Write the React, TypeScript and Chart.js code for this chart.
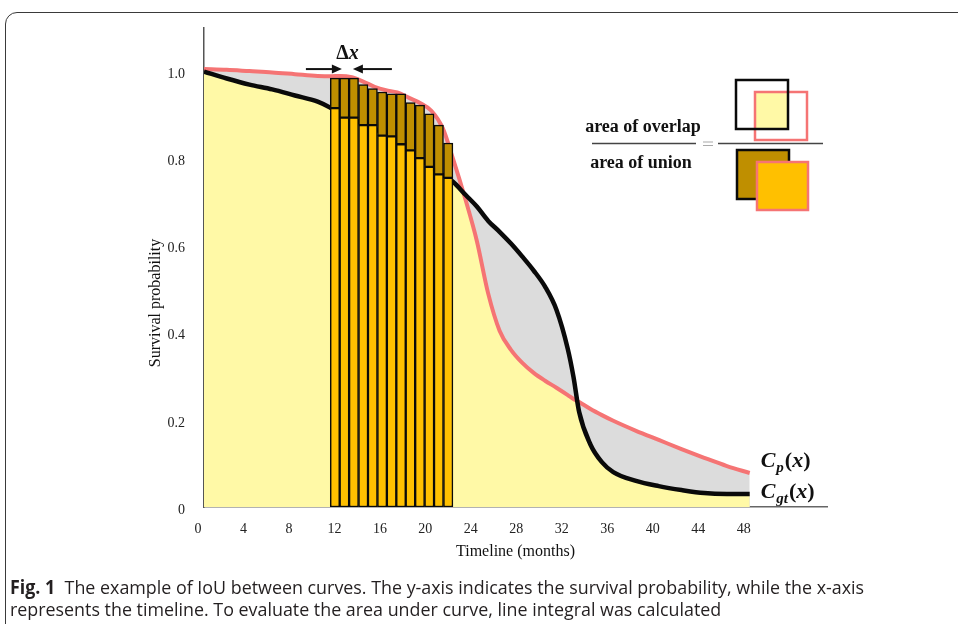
import React, { useEffect, useRef } from 'react';
import { Chart, registerables } from 'chart.js';

Chart.register(...registerables);

// ---- data (months, survival probability) ----
const timeline = [0, 2, 4, 6, 8, 10, 11.1, 12, 13, 14, 15, 16, 17, 18, 19, 20, 21, 21.9, 23, 24, 25, 26, 27, 28, 29, 30, 31, 32, 32.5, 33, 34, 35, 36, 38, 40, 42, 44, 46, 48];
const groundTruth = [1.0, 0.984, 0.97, 0.959, 0.945, 0.931, 0.917, 0.9, 0.893, 0.878, 0.87, 0.852, 0.84, 0.822, 0.8, 0.78, 0.762, 0.747, 0.717, 0.69, 0.657, 0.632, 0.605, 0.575, 0.543, 0.506, 0.453, 0.363, 0.299, 0.218, 0.143, 0.103, 0.08, 0.06, 0.048, 0.039, 0.032, 0.03, 0.03];
const predicted = [1.006, 1.004, 1.001, 0.998, 0.994, 0.99, 0.989, 0.99, 0.987, 0.977, 0.965, 0.957, 0.952, 0.94, 0.928, 0.91, 0.87, 0.8, 0.706, 0.611, 0.49, 0.405, 0.361, 0.331, 0.308, 0.29, 0.274, 0.257, 0.248, 0.241, 0.225, 0.211, 0.198, 0.175, 0.154, 0.133, 0.113, 0.094, 0.078];

// Δx strips used for the line integral
const barCenters = [11.52, 12.35, 13.18, 14.01, 14.84, 15.67, 16.5, 17.33, 18.16, 18.99, 19.82, 20.65, 21.48];
const barGroundTruth = [0.916, 0.894, 0.894, 0.877, 0.877, 0.853, 0.851, 0.833, 0.819, 0.801, 0.781, 0.764, 0.756];
const barPredicted = [0.985, 0.985, 0.985, 0.97, 0.961, 0.953, 0.949, 0.949, 0.929, 0.923, 0.903, 0.877, 0.836];

const xTicks = [0, 4, 8, 12, 16, 20, 24, 28, 32, 36, 40, 44, 48];
const yTicks = [0, 0.2, 0.4, 0.6, 0.8, 1.0];

const RED = '#F57474';
const BLACK = '#0a0a0a';
const GREY = '#DCDCDC';
const YELLOW = '#FFF9A6';
const ORANGE = '#FFC000';
const DARKGOLD = '#BF8F00';
const SERIF = '"Liberation Serif", "Times New Roman", serif';

const annotations = {
  id: 'annotations',
  afterDraw(chart: any) {
    const { ctx, scales } = chart;
    const x = scales.x;
    const y = scales.y;
    ctx.save();

    // y axis title
    ctx.save();
    ctx.translate(156, 303);
    ctx.rotate(-Math.PI / 2);
    ctx.font = `16px ${SERIF}`;
    ctx.fillStyle = '#111';
    ctx.textAlign = 'center';
    ctx.textBaseline = 'middle';
    ctx.fillText('Survival probability', 0, 0);
    ctx.restore();

    // Δx marker
    const c = x.getPixelForValue(barCenters[1]) + 3;
    const ay = y.getPixelForValue(barPredicted[0]) - 9;
    const gap = 5.5;
    ctx.strokeStyle = '#111';
    ctx.fillStyle = '#111';
    ctx.lineWidth = 2;
    const arrow = (from: number, to: number) => {
      const dir = Math.sign(to - from);
      ctx.beginPath();
      ctx.moveTo(from, ay);
      ctx.lineTo(to - dir * 8, ay);
      ctx.stroke();
      ctx.beginPath();
      ctx.moveTo(to, ay);
      ctx.lineTo(to - dir * 10, ay - 4.5);
      ctx.lineTo(to - dir * 10, ay + 4.5);
      ctx.closePath();
      ctx.fill();
    };
    arrow(c - gap - 36, c - gap);
    arrow(c + gap + 39, c + gap);
    ctx.textBaseline = 'alphabetic';
    ctx.textAlign = 'left';
    ctx.font = `bold 20px ${SERIF}`;
    const dW = ctx.measureText('Δ').width;
    ctx.font = `bold italic 20px ${SERIF}`;
    const xW = ctx.measureText('x').width;
    const tx = c - (dW + xW) / 2;
    ctx.font = `bold 20px ${SERIF}`;
    ctx.fillText('Δ', tx, ay - 10);
    ctx.font = `bold italic 20px ${SERIF}`;
    ctx.fillText('x', tx + dW, ay - 10);

    // curve labels
    const drawLabel = (sub: string, baseY: number) => {
      let px = x.getPixelForValue(timeline[timeline.length - 1]) + 11;
      ctx.fillStyle = '#111';
      ctx.font = `bold italic 22px ${SERIF}`;
      ctx.fillText('C', px, baseY);
      px += ctx.measureText('C').width + 1;
      ctx.font = `bold italic 15px ${SERIF}`;
      ctx.fillText(sub, px, baseY + 5);
      px += ctx.measureText(sub).width + 1;
      ctx.font = `bold 22px ${SERIF}`;
      ctx.fillText('(', px, baseY);
      px += ctx.measureText('(').width;
      ctx.font = `bold italic 22px ${SERIF}`;
      ctx.fillText('x', px, baseY);
      px += ctx.measureText('x').width;
      ctx.font = `bold 22px ${SERIF}`;
      ctx.fillText(')', px, baseY);
    };
    drawLabel('p', y.getPixelForValue(predicted[predicted.length - 1]) - 6);
    drawLabel('gt', y.getPixelForValue(groundTruth[groundTruth.length - 1]) + 4);

    // IoU illustration
    ctx.font = `bold 18px ${SERIF}`;
    ctx.textAlign = 'center';
    ctx.fillStyle = '#111';
    ctx.fillText('area of overlap', 643, 132);
    ctx.fillText('area of union', 641, 168);
    ctx.strokeStyle = '#444';
    ctx.lineWidth = 1.5;
    ctx.beginPath();
    ctx.moveTo(592, 143.5);
    ctx.lineTo(696, 143.5);
    ctx.moveTo(718, 143.5);
    ctx.lineTo(823, 143.5);
    ctx.stroke();
    ctx.strokeStyle = '#aaa';
    ctx.lineWidth = 1.2;
    ctx.beginPath();
    ctx.moveTo(703, 142);
    ctx.lineTo(713, 142);
    ctx.moveTo(703, 145.5);
    ctx.lineTo(713, 145.5);
    ctx.stroke();

    // overlap squares
    ctx.fillStyle = YELLOW;
    ctx.fillRect(755, 92, 33, 37);
    ctx.lineWidth = 2.5;
    ctx.strokeStyle = RED;
    ctx.strokeRect(755, 92, 52, 48);
    ctx.strokeStyle = BLACK;
    ctx.strokeRect(736, 80, 52, 49);
    // union squares
    ctx.fillStyle = DARKGOLD;
    ctx.fillRect(737, 150, 52, 49);
    ctx.strokeStyle = BLACK;
    ctx.strokeRect(737, 150, 52, 49);
    ctx.fillStyle = ORANGE;
    ctx.fillRect(757, 162, 51, 48);
    ctx.strokeStyle = RED;
    ctx.strokeRect(757, 162, 51, 48);

    ctx.restore();
  },
};

export default function App() {
  const canvasRef = useRef<HTMLCanvasElement>(null);

  useEffect(() => {
    const canvas = canvasRef.current;
    if (!canvas) return;
    const gtPoints = timeline.map((t, i) => ({ x: t, y: groundTruth[i] }));
    const predPoints = timeline.map((t, i) => ({ x: t, y: predicted[i] }));
    const overlapPoints = timeline.map((t, i) => ({ x: t, y: Math.min(groundTruth[i], predicted[i]) }));
    const upperBars = barCenters.map((t, i) => ({ x: t, y: [barGroundTruth[i], barPredicted[i]] }));
    const lowerBars = barCenters.map((t, i) => ({ x: t, y: [0, barGroundTruth[i]] }));

    const chart = new Chart(canvas, {
      type: 'line',
      data: {
        datasets: [
          {
            type: 'bar',
            label: 'difference strip',
            data: upperBars as any,
            backgroundColor: DARKGOLD,
            borderColor: BLACK,
            borderWidth: 1.5,
            borderSkipped: false,
            grouped: false,
            barPercentage: 1,
            categoryPercentage: 1,
            order: 0,
          } as any,
          {
            type: 'bar',
            label: 'overlap strip',
            data: lowerBars as any,
            backgroundColor: ORANGE,
            borderColor: BLACK,
            borderWidth: 1.5,
            borderSkipped: false,
            grouped: false,
            barPercentage: 1,
            categoryPercentage: 1,
            order: 0,
          } as any,
          {
            label: 'overlap',
            data: overlapPoints,
            borderWidth: 0,
            pointRadius: 0,
            fill: 'origin',
            backgroundColor: YELLOW,
            cubicInterpolationMode: 'monotone',
            order: 1,
          },
          {
            label: 'C_gt(x)',
            data: gtPoints,
            borderColor: BLACK,
            borderWidth: 4.5,
            pointRadius: 0,
            fill: 'origin',
            backgroundColor: GREY,
            cubicInterpolationMode: 'monotone',
            order: 1,
          },
          {
            label: 'C_p(x)',
            data: predPoints,
            borderColor: RED,
            borderWidth: 4,
            pointRadius: 0,
            fill: 'origin',
            backgroundColor: GREY,
            cubicInterpolationMode: 'monotone',
            order: 1,
          },
        ],
      },
      options: {
        responsive: false,
        animation: false,
        events: [],
        layout: { padding: { left: 0, right: 131, top: 28, bottom: 0 } },
        plugins: {
          legend: { display: false },
          tooltip: { enabled: false },
          filler: { drawTime: 'beforeDatasetsDraw' },
        },
        scales: {
          x: {
            type: 'linear',
            min: 0,
            max: 54.8,
            offset: false,
            grid: { display: false, offset: false },
            border: { display: true, color: '#666', width: 1.5 },
            afterBuildTicks: (s: any) => {
              s.ticks = xTicks.map((v) => ({ value: v }));
            },
            afterFit: (s: any) => {
              s.height = 117;
            },
            ticks: {
              padding: 6,
              labelOffset: -6,
              maxRotation: 0,
              autoSkip: false,
              color: '#222',
              font: { family: SERIF, size: 14 },
              callback: (v: any) => String(v),
            },
            title: {
              display: true,
              text: 'Timeline (months)',
              color: '#111',
              font: { family: SERIF, size: 16 },
              padding: { top: 0, bottom: 63 },
            },
          },
          y: {
            type: 'linear',
            min: 0,
            max: 1.1,
            grid: { display: false },
            border: { display: true, color: '#555', width: 1.5 },
            afterBuildTicks: (s: any) => {
              s.ticks = yTicks.map((v) => ({ value: v }));
            },
            afterFit: (s: any) => {
              s.width = 204;
            },
            ticks: {
              padding: 11,
              labelOffset: 3,
              color: '#222',
              font: { family: SERIF, size: 14 },
              callback: (v: any) => (Number(v) === 0 ? '0' : Number(v).toFixed(1)),
            },
          },
        },
      },
      plugins: [annotations],
    });
    return () => chart.destroy();
  }, []);

  return (
    <div style={{ position: 'fixed', left: 0, top: 0, width: 958, height: 624, overflow: 'hidden', background: '#fff' }}>
      <div
        style={{
          position: 'absolute',
          left: 5,
          top: 12,
          width: 1100,
          height: 800,
          border: '1.5px solid #3a3a3a',
          borderTopLeftRadius: 12,
          boxSizing: 'border-box',
        }}
      />
      <canvas ref={canvasRef} width={958} height={624} style={{ position: 'absolute', left: 0, top: 0 }} />
      <div
        style={{
          position: 'absolute',
          left: 10,
          top: 576,
          whiteSpace: 'nowrap',
          fontFamily: '"Open Sans", sans-serif',
          fontSize: 19,
          lineHeight: '22px',
          color: '#231f20',
          transform: 'scaleX(0.94)',
          transformOrigin: 'left top',
        }}
      >
        <b>Fig. 1</b>&nbsp; The example of IoU between curves. The y-axis indicates the survival probability, while the x-axis
        <br />
        represents the timeline. To evaluate the area under curve, line integral was calculated
      </div>
    </div>
  );
}
